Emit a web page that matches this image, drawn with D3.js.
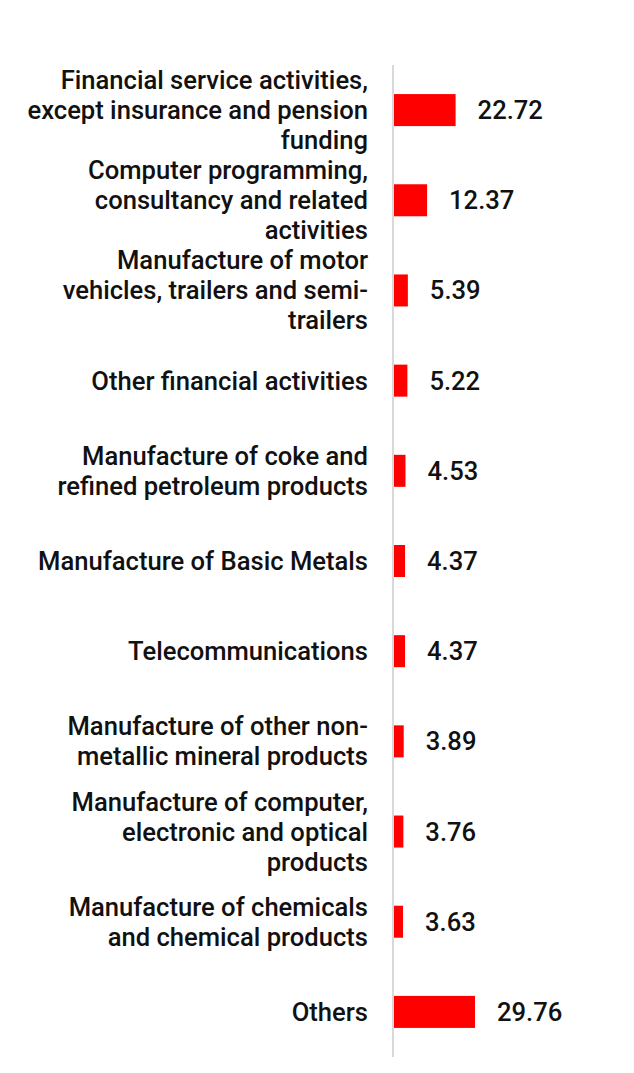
<!DOCTYPE html>
<html><head><meta charset="utf-8">
<script src="https://cdn.jsdelivr.net/npm/d3@7"></script>
<style>body{margin:0;background:#fff}svg{display:block}</style>
</head><body>
<svg id="chart" width="634" height="1073"></svg>
<script>
const categories = [
  "Financial service activities, except insurance and pension funding",
  "Computer programming, consultancy and related activities",
  "Manufacture of motor vehicles, trailers and semi-trailers",
  "Other financial activities",
  "Manufacture of coke and refined petroleum products",
  "Manufacture of Basic Metals",
  "Telecommunications",
  "Manufacture of other non-metallic mineral products",
  "Manufacture of computer, electronic and optical products",
  "Manufacture of chemicals and chemical products",
  "Others"
];
const values = [22.72, 12.37, 5.39, 5.22, 4.53, 4.37, 4.37, 3.89, 3.76, 3.63, 29.76];

const svg = d3.select("#chart");
const axisX = 393, plotTop = 65, plotBottom = 1057;
const font = "Roboto, sans-serif", fs = 25.6, fw = 500;

const x = d3.scaleLinear().domain([0, 29.76]).range([axisX, 475]);
const y = d3.scaleBand().domain(categories).range([plotTop, plotBottom]).paddingInner(0.645).paddingOuter(0.3225);

svg.append("line").attr("x1", axisX).attr("x2", axisX).attr("y1", plotTop).attr("y2", plotBottom)
  .attr("stroke", "#d9d9d9").attr("stroke-width", 2);

svg.selectAll("rect.bar").data(values).join("rect").attr("class", "bar")
  .attr("x", axisX + 1).attr("y", (d, i) => y(categories[i]))
  .attr("width", d => x(d) - axisX - 1).attr("height", y.bandwidth())
  .attr("fill", "#ff0000");

svg.selectAll("text.val").data(values).join("text").attr("class", "val")
  .attr("x", d => x(d) + 22).attr("y", (d, i) => y(categories[i]) + y.bandwidth() / 2)
  .attr("dy", "0.35em").attr("font-family", font).attr("font-size", fs).attr("font-weight", fw).attr("fill", "#111")
  .text(d => d.toFixed(2));

// wrapping
const measure = svg.append("text").attr("font-family", font).attr("font-size", fs).attr("font-weight", fw).attr("visibility", "hidden");
function tw(s) { measure.text(s); return measure.node().getComputedTextLength(); }
function wrap(str, maxW) {
  const tokens = str.match(/[^\s-]+-?/g);
  const lines = []; let cur = "";
  tokens.forEach(t => {
    const sep = cur === "" ? "" : (cur.endsWith("-") ? "" : " ");
    const test = cur + sep + t;
    if (cur !== "" && tw(test) > maxW) { lines.push(cur); cur = t; }
    else cur = test;
  });
  if (cur) lines.push(cur);
  return lines;
}
const lh = 30;
categories.forEach((c, i) => {
  const lines = wrap(c, 344);
  const cy = y(c) + y.bandwidth() / 2;
  const t = svg.append("text").attr("text-anchor", "end").attr("font-family", font)
    .attr("font-size", fs).attr("font-weight", fw).attr("fill", "#111");
  lines.forEach((l, j) => {
    t.append("tspan").attr("x", 368).attr("y", cy + (j - (lines.length - 1) / 2) * lh)
      .attr("dy", "0.35em").text(l);
  });
});
measure.remove();
</script>
</body></html>
